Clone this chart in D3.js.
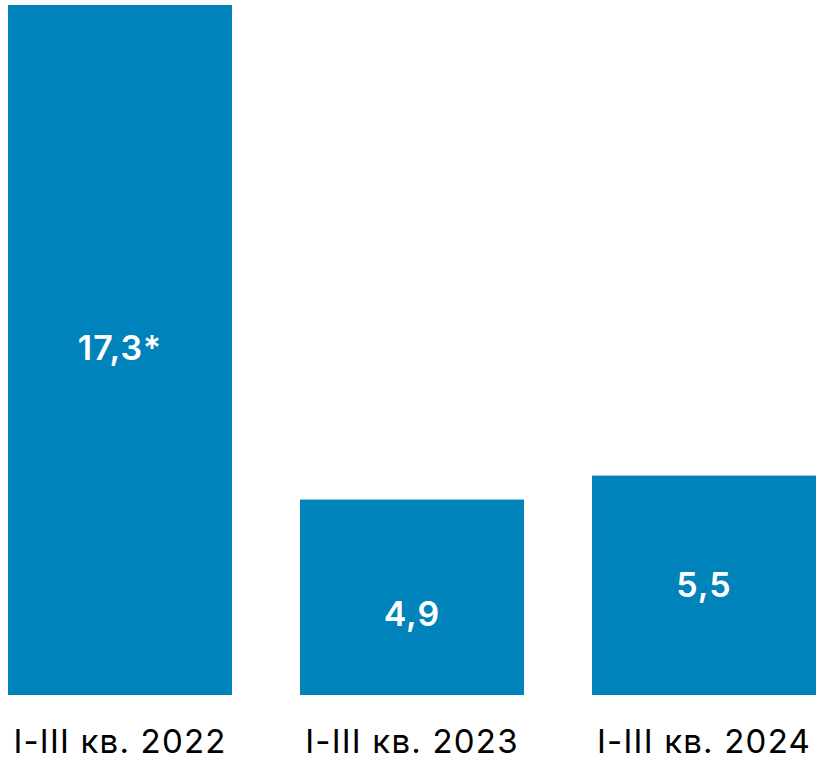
<!DOCTYPE html>
<html>
<head>
<meta charset="utf-8">
<script src="https://cdn.jsdelivr.net/npm/d3@7"></script>
<style>
  body { margin: 0; background: #fff; }
  svg { display: block; }
</style>
</head>
<body>
<div id="chart"></div>
<script>
// data
const categories = ["I-III кв. 2022", "I-III кв. 2023", "I-III кв. 2024"];
const values = [17.3, 4.9, 5.5];
const valueLabels = ["17,3*", "4,9", "5,5"];

const width = 816, height = 762;
const barColor = "#0082ba";
const font = "Inter, 'Noto Sans', sans-serif";

const svg = d3.select("#chart").append("svg")
    .attr("width", width)
    .attr("height", height);

let x = d3.scaleBand()
    .domain(categories)
    .range([8, 816])
    .paddingInner(0.233)
    .paddingOuter(0);

let y = d3.scaleLinear()
    .domain([0, 17.3])
    .range([695, 5]);

let rows = categories.map((c, i) => ({ cat: c, value: values[i], label: valueLabels[i] }));

// small vertical nudge for the in-bar labels (the 2023 one sits lower in the original)
const labelShift = [-2, 17, 0];

svg.selectAll(".bar")
    .data(rows)
    .join("rect")
    .attr("class", "bar")
    .attr("x", d => x(d.cat))
    .attr("y", d => y(d.value))
    .attr("width", x.bandwidth())
    .attr("height", d => y(0) - y(d.value))
    .attr("fill", barColor);

svg.selectAll(".val")
    .data(rows)
    .join("text")
    .attr("class", "val")
    .attr("x", d => x(d.cat) + x.bandwidth() / 2)
    .attr("y", (d, i) => (y(d.value) + y(0)) / 2 + labelShift[i])
    .attr("dy", "0.35em")
    .attr("text-anchor", "middle")
    .style("font-family", font)
    .style("font-weight", 600)
    .style("font-size", "34px")
    .style("letter-spacing", "1px")
    .style("fill", "#fff")
    .text(d => d.label);

// category axis, no line or ticks
let axis = svg.append("g")
    .attr("transform", "translate(0," + y(0) + ")")
    .call(d3.axisBottom(x).tickSize(0).tickPadding(0));
axis.select(".domain").remove();
axis.selectAll("text")
    .attr("y", 58)
    .attr("dy", 0)
    .style("font-family", font)
    .style("font-size", "33px")
    .style("letter-spacing", "1.2px")
    .style("fill", "#000");
</script>
</body>
</html>
